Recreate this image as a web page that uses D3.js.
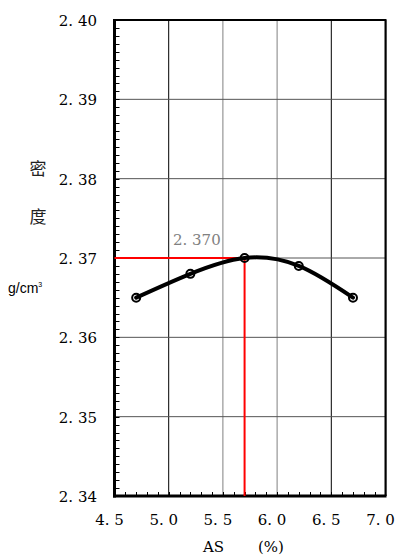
<!DOCTYPE html>
<html><head><meta charset="utf-8">
<script src="https://cdn.jsdelivr.net/npm/d3@7"></script>
<style>body{margin:0;background:#fff}svg{display:block}
.serif{font-family:"DejaVu Serif","Liberation Serif",serif}
.cjk{font-family:"Noto Sans CJK SC","Noto Sans CJK JP",sans-serif}
.sans{font-family:"Liberation Sans",Arial,sans-serif}
</style>
</head><body>
<script>
const asValues = [4.7, 5.2, 5.7, 6.2, 6.7];
const densityValues = [2.365, 2.368, 2.370, 2.369, 2.365];
const xTicks = [4.5, 5.0, 5.5, 6.0, 6.5, 7.0];
const yTicks = [2.34, 2.35, 2.36, 2.37, 2.38, 2.39, 2.40];
const optimumAS = 5.7;
const optimumDensity = 2.370;

const W = 398, H = 558;
const svg = d3.select("body").append("svg").attr("width", W).attr("height", H);
const x = d3.scaleLinear().domain([4.5, 7.0]).range([114.5, 385.5]);
const y = d3.scaleLinear().domain([2.34, 2.40]).range([496, 20]);
const fmt = (v, n) => { const s = v.toFixed(n).split("."); return s[0] + ". " + s[1]; };

// grid
const vColor = {5.0: "#000", 5.5: "#808080", 6.0: "#808080", 6.5: "#000"};
svg.append("g").selectAll("line").data(xTicks.slice(1, -1)).join("line")
  .attr("x1", d => x(d)).attr("x2", d => x(d)).attr("y1", y(2.40)).attr("y2", y(2.34))
  .attr("stroke", d => vColor[d]).attr("stroke-width", 1);
svg.append("g").selectAll("line").data(yTicks.slice(1, -1)).join("line")
  .attr("x1", x(4.5)).attr("x2", x(7.0)).attr("y1", d => y(d)).attr("y2", d => y(d))
  .attr("stroke", "#555").attr("stroke-width", 1);

// minor ticks
const yMinor = d3.range(0, 61).map(i => 2.34 + i * 0.001);
svg.append("g").selectAll("line").data(yMinor).join("line")
  .attr("x1", x(4.5)).attr("x2", x(4.5) + 5).attr("y1", d => Math.round(y(d)) + 0.5).attr("y2", d => Math.round(y(d)) + 0.5)
  .attr("stroke", "#000").attr("stroke-width", 1);
const xMinor = d3.range(0, 26).map(i => 4.5 + i * 0.1);
svg.append("g").selectAll("line").data(xMinor).join("line")
  .attr("x1", d => Math.round(x(d)) + 0.5).attr("x2", d => Math.round(x(d)) + 0.5).attr("y1", y(2.34)).attr("y2", y(2.34) - 4)
  .attr("stroke", "#000").attr("stroke-width", 1);

// frame
svg.append("line").attr("x1", x(4.5)).attr("x2", x(7.0)).attr("y1", y(2.40)).attr("y2", y(2.40)).attr("stroke", "#000").attr("stroke-width", 2);
svg.append("line").attr("x1", x(7.0) + 1).attr("x2", x(7.0) + 1).attr("y1", y(2.40)).attr("y2", y(2.34)).attr("stroke", "#999").attr("stroke-width", 1);
svg.append("line").attr("x1", x(7.0)).attr("x2", x(7.0)).attr("y1", y(2.40) - 1).attr("y2", y(2.34)).attr("stroke", "#000").attr("stroke-width", 2);
svg.append("line").attr("x1", x(4.5)).attr("x2", x(4.5)).attr("y1", y(2.40) - 1).attr("y2", y(2.34) + 1.5).attr("stroke", "#000").attr("stroke-width", 3);
svg.append("line").attr("x1", x(4.5) - 1.5).attr("x2", x(7.0) + 1).attr("y1", y(2.34)).attr("y2", y(2.34)).attr("stroke", "#000").attr("stroke-width", 3);

// red guide lines
svg.append("line").attr("x1", x(4.5)).attr("x2", x(optimumAS)).attr("y1", y(optimumDensity)).attr("y2", y(optimumDensity)).attr("stroke", "#f00").attr("stroke-width", 2);
svg.append("line").attr("x1", x(optimumAS)).attr("x2", x(optimumAS)).attr("y1", y(optimumDensity)).attr("y2", y(2.34)).attr("stroke", "#f00").attr("stroke-width", 2);

// curve
const pts = asValues.map((v, i) => [v, densityValues[i]]);
svg.append("path").datum(pts)
  .attr("d", d3.line().x(d => x(d[0])).y(d => y(d[1])).curve(d3.curveNatural))
  .attr("fill", "none").attr("stroke", "#000").attr("stroke-width", 4).attr("stroke-linecap", "round");
svg.append("g").selectAll("circle").data(pts).join("circle")
  .attr("cx", d => x(d[0])).attr("cy", d => y(d[1])).attr("r", 4)
  .attr("fill", "none").attr("stroke", "#000").attr("stroke-width", 2);

// tick labels
svg.append("g").selectAll("text").data(yTicks).join("text")
  .attr("class", "serif")
  .attr("x", 97).attr("y", d => y(d) + 6).attr("text-anchor", "end")
  .attr("font-size", 15).attr("fill", "#000")
  .text(d => fmt(d, 2));
svg.append("g").selectAll("text").data(xTicks).join("text")
  .attr("class", "serif")
  .attr("x", d => x(d) - 5).attr("y", 525).attr("text-anchor", "middle")
  .attr("font-size", 15).attr("fill", "#000")
  .text(d => fmt(d, 1));

// value label
svg.append("text").attr("class", "serif").attr("x", 173).attr("y", 245).attr("font-size", 15)
  .attr("fill", "#808080").text(fmt(optimumDensity, 3));

// axis titles
svg.append("text").attr("class", "cjk").attr("x", 38).attr("y", 175).attr("text-anchor", "middle").attr("font-size", 17).attr("fill", "#222").text("密");
svg.append("text").attr("class", "cjk").attr("x", 38).attr("y", 223).attr("text-anchor", "middle").attr("font-size", 17).attr("fill", "#222").text("度");
const gt = svg.append("text").attr("class", "sans").attr("x", 8).attr("y", 293).attr("font-size", 14).attr("fill", "#000");
gt.append("tspan").text("g/cm");
gt.append("tspan").attr("font-size", 7).attr("dy", -6).text("3");
svg.append("text").attr("class", "serif").attr("x", 203).attr("y", 552).attr("font-size", 15).text("AS");
svg.append("text").attr("class", "serif").attr("x", 258).attr("y", 552).attr("font-size", 15).text("(%)");
</script>
</body></html>
